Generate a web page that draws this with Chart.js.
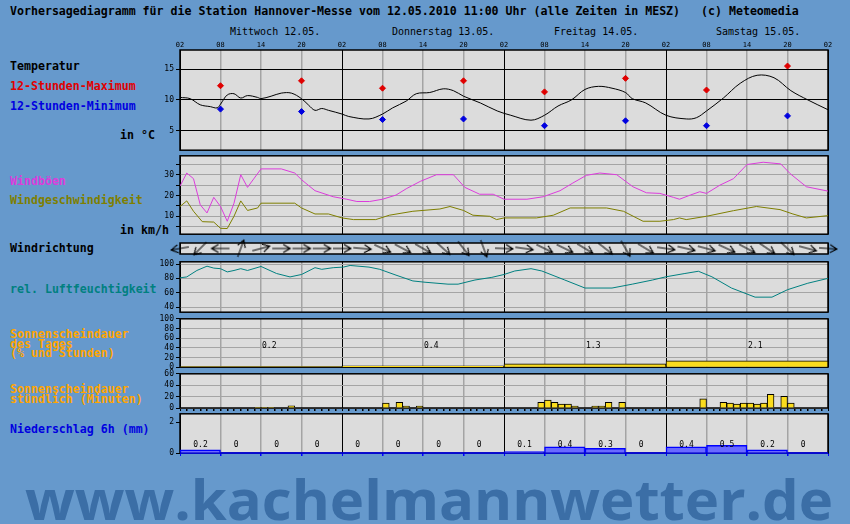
<!DOCTYPE html>
<html>
<head>
<meta charset="utf-8">
<title>Vorhersagediagramm Hannover-Messe</title>
<script src="https://cdn.jsdelivr.net/npm/chart.js@4/dist/chart.umd.min.js"></script>
<style>
  html, body { margin: 0; padding: 0; background: #6699cc; }
  body { position: relative; width: 850px; height: 524px; overflow: hidden; font-family: "DejaVu Sans Mono", monospace; }
  canvas { position: absolute; left: 140px; }
  .lbl { position: absolute; left: 10px; font-weight: bold; font-size: 11.6px; line-height: 11.6px; white-space: pre; color: #000; }
  .day { position: absolute; top: 27px; font-size: 10px; line-height: 10px; white-space: pre; color: #000; }
  #wm { position: absolute; left: 25px; top: 470px; font: bold 56px "Open Sans", sans-serif; line-height: 56px;
        color: #3b6ea6; white-space: nowrap; transform-origin: 0 0; }
</style>
</head>
<body>

<div class="lbl" style="top:6px">Vorhersagediagramm für die Station Hannover-Messe vom 12.05.2010 11:00 Uhr (alle Zeiten in MESZ)   (c) Meteomedia</div>

<div class="lbl" style="top:61px">Temperatur</div>
<div class="lbl" style="top:81px;color:#e00000">12-Stunden-Maximum</div>
<div class="lbl" style="top:101px;color:#0000e0">12-Stunden-Minimum</div>
<div class="lbl" style="top:130px;left:120px">in °C</div>

<div class="lbl" style="top:176px;color:#dc3cdc">Windböen</div>
<div class="lbl" style="top:195px;color:#7f7f00">Windgeschwindigkeit</div>
<div class="lbl" style="top:225px;left:120px">in km/h</div>
<div class="lbl" style="top:243px">Windrichtung</div>

<div class="lbl" style="top:283.5px;color:#008080">rel. Luftfeuchtigkeit</div>

<div class="lbl" style="top:328.5px;color:#ffa500">Sonnenscheindauer</div>
<div class="lbl" style="top:338.5px;color:#ffa500">des Tages</div>
<div class="lbl" style="top:347.5px;color:#ffa500">(% und Stunden)</div>

<div class="lbl" style="top:383.5px;color:#ffa500">Sonnenscheindauer</div>
<div class="lbl" style="top:393.5px;color:#ffa500">stündlich (Minuten)</div>

<div class="lbl" style="top:423.5px;color:#0000e0">Niederschlag 6h (mm)</div>

<div id="dayLabels"></div>

<canvas id="cTemp" width="710" height="121" style="top:36px"></canvas>
<canvas id="cWind" width="710" height="92" style="top:149px"></canvas>
<canvas id="cDir" width="710" height="33" style="top:232px"></canvas>
<canvas id="cHum" width="710" height="64" style="top:255px"></canvas>
<canvas id="cSunDay" width="710" height="62" style="top:312px"></canvas>
<canvas id="cSunHour" width="710" height="50" style="top:367px"></canvas>
<canvas id="cPrec" width="710" height="56" style="top:407px"></canvas>

<div id="wm">www.kachelmannwetter.de</div>

<script>
// hours are counted from Wednesday 12.05. 02:00 MESZ (0 .. 96)
const days = ['Mittwoch 12.05.', 'Donnerstag 13.05.', 'Freitag 14.05.', 'Samstag 15.05.'];

// temperature in °C
const tempHours  = [0, 1.5, 3, 4.5, 5.5, 6, 7, 8, 9, 10, 11.5, 12, 13.5, 15, 16.5, 18, 19, 20, 21, 22, 24, 25, 28, 30, 31.5, 33.5, 35, 37, 39, 40.5, 42, 44.5, 47, 49, 52, 54, 56, 58, 60, 62, 64, 66, 67, 69, 72, 75, 76.5, 78, 80.5, 83, 85.5, 88, 90.5, 93, 96];
const tempValues = [10.4, 10.2, 9.2, 8.9, 8.7, 9.3, 10.8, 11.0, 10.3, 10.7, 10.4, 10.2, 10.6, 11.1, 11.1, 10.2, 9.2, 8.3, 8.6, 8.3, 7.7, 7.3, 6.9, 7.7, 8.7, 9.8, 11.0, 11.2, 11.8, 11.5, 10.6, 9.5, 8.2, 7.5, 6.7, 7.5, 9.0, 10.0, 11.7, 12.2, 11.9, 11.2, 10.2, 9.5, 7.5, 6.9, 7.1, 8.2, 10.3, 12.7, 14.0, 13.6, 11.5, 10.0, 8.4];

// 12-hour extremes (at 08 and 20 h)
const extremeHours = [6, 18, 30, 42, 54, 66, 78, 90];
const maxValues = [12.3, 13.1, 11.9, 13.1, 11.3, 13.5, 11.6, 15.5];
const minValues = [8.5, 8.1, 6.8, 6.9, 5.8, 6.6, 5.8, 7.4];

// wind in km/h
const gustHours  = [0, 1, 2, 3, 4, 5, 6, 7, 8, 9, 10, 12, 15, 17, 18, 20, 22.7, 24.7, 26.2, 28.1, 30, 32, 33.6, 35.6, 38, 40.5, 42.2, 44.4, 46.4, 48, 51.4, 53.8, 56.3, 58.2, 60.2, 62.2, 64.7, 67.1, 69.1, 71.1, 73.1, 74, 75.6, 77, 78, 80, 82, 84, 86.4, 89, 90.4, 92.8, 96];
const gustValues = [24.5, 30.8, 28.1, 15.5, 11.6, 19.1, 14.7, 7.6, 16.3, 30.0, 23.9, 32.8, 32.8, 30.8, 27.6, 22.3, 19.4, 18.2, 17.1, 17.1, 18.2, 20.2, 23.4, 26.8, 30.0, 30.0, 23.9, 20.6, 20.6, 18.2, 18.2, 19.4, 22.3, 26.0, 29.7, 30.8, 30.0, 24.2, 21.3, 21.0, 19.1, 18.2, 20.2, 21.8, 21.0, 25.0, 28.1, 34.9, 36.0, 35.2, 30.5, 24.2, 22.1];
const speedHours  = [0, 1, 2, 3.3, 5, 6, 7, 8, 9, 10, 11.5, 12, 17, 18, 20, 22, 24, 25.7, 29, 31, 34.5, 38.5, 40, 42, 43.4, 45.9, 46.9, 48, 52.8, 55.3, 57.8, 63.2, 65.7, 68.6, 71.1, 73.1, 74, 75, 78, 82, 85.4, 88.9, 90.8, 92.8, 96];
const speedValues = [14.7, 17.4, 12.4, 7.4, 7.2, 4.2, 4.1, 10.0, 17.4, 12.8, 14.0, 16.3, 16.3, 14.0, 11.1, 11.1, 9.2, 8.4, 8.4, 10.5, 12.4, 13.5, 14.7, 12.8, 10.5, 10.0, 8.4, 9.2, 9.2, 10.5, 14.0, 14.0, 12.4, 7.6, 7.6, 8.4, 9.2, 8.4, 10.0, 12.7, 14.7, 13.2, 11.1, 9.2, 10.3];

// wind direction (degrees the wind comes from), every 3 hours from hour 0
const windDir = [80, 45, 90, 200, 255, 270, 270, 270, 270, 275, 295, 298, 300, 312, 322, 340, 272, 278, 296, 296, 301, 308, 330, 301, 278, 283, 285, 295, 298, 304, 313, 285, 274];

// relative humidity in %
const humHours  = [0, 1, 2.5, 4, 5, 6, 7, 8, 9, 10, 12, 14.3, 16.3, 18, 20, 21, 22.7, 24.2, 25.2, 28, 29.6, 32, 34.5, 36.3, 39.7, 41.2, 43.7, 46.2, 48, 49.6, 52, 53.6, 57, 60, 64, 67, 70, 72, 74.8, 76.8, 78.8, 81.7, 85.2, 87.7, 90, 93, 96];
const humValues = [80.8, 82, 91, 97, 94.3, 93.5, 89, 91, 93.5, 91, 96.6, 86.8, 82, 85.4, 94.9, 92.6, 94.9, 95.7, 98, 95.7, 92.6, 84.5, 76.4, 74.6, 71.9, 71.9, 77.7, 81.4, 85.4, 90.3, 93.5, 90.3, 77.7, 66.5, 66.5, 71.9, 77.7, 82.2, 86.8, 89.9, 82.2, 66.5, 53.8, 53.8, 64.2, 73.2, 80];

// daily sunshine: percent of possible, and hours
const sunDayPct   = [1.3, 2.6, 7, 13];
const sunDayHours = [0.2, 0.4, 1.3, 2.1];

// hourly sunshine in minutes (hour index -> minutes)
const sunHours   = [11, 12, 13, 16, 30, 32, 33, 35, 53, 54, 55, 56, 57, 58, 61, 62, 63, 65, 77, 80, 81, 82, 83, 84, 85, 86, 87, 89, 90];
const sunMinutes = [0.5, 0.5, 0.5, 4, 8.5, 10, 3.5, 3.5, 10, 14, 10, 7, 7, 3.5, 3.5, 3.5, 10, 10, 16, 10, 8.5, 7, 8.5, 8.5, 7, 8.5, 24, 20.5, 8.5];

// 6-hourly precipitation in mm
const precValues = [0.2, 0, 0, 0, 0, 0, 0, 0, 0.1, 0.4, 0.3, 0, 0.4, 0.5, 0.2, 0];

// ---------------------------------------------------------------
const mono = '"DejaVu Sans Mono", monospace';
const range = (a, b, s) => Array.from({ length: Math.floor((b - a) / s) + 1 }, (_, i) => a + i * s);
const pts = (xs, ys) => xs.map((x, i) => ({ x: x, y: ys[i] }));
const hourTick = v => String((v + 2) % 24).padStart(2, '0');

// grey panel background + black frame
const panelFrame = {
  id: 'panelFrame',
  beforeDraw(chart) {
    const a = chart.chartArea, ctx = chart.ctx;
    ctx.save();
    ctx.fillStyle = '#dcdcdc';
    ctx.fillRect(a.left, a.top, a.right - a.left, a.bottom - a.top);
    ctx.restore();
  },
  beforeDatasetsDraw(chart, args, opts) {
    const a = chart.chartArea, ctx = chart.ctx;
    ctx.save();
    ctx.strokeStyle = '#000';
    ctx.lineWidth = 1.5;
    ctx.strokeRect(a.left, a.top, a.right - a.left, a.bottom - a.top);
    if (opts.bottom) {
      ctx.strokeStyle = opts.bottom;
      ctx.beginPath();
      ctx.moveTo(a.left, a.bottom);
      ctx.lineTo(a.right, a.bottom);
      ctx.stroke();
    }
    ctx.restore();
  }
};

// small value texts inside a panel
const textLabels = {
  id: 'textLabels',
  afterDatasetsDraw(chart, args, opts) {
    if (!opts.texts) return;
    const ctx = chart.ctx, xs = chart.scales.x, ys = chart.scales.y;
    ctx.save();
    ctx.font = '8px ' + mono;
    ctx.fillStyle = '#000';
    ctx.textAlign = 'left';
    ctx.textBaseline = 'middle';
    opts.texts.forEach((t, i) => {
      ctx.fillText(t, xs.getPixelForValue(opts.hours[i]) + opts.dx, ys.getPixelForValue(opts.yValue));
    });
    ctx.restore();
  }
};
Chart.register(panelFrame, textLabels);

function xAxis(o) {
  o = o || {};
  return {
    type: 'linear', position: o.position || 'bottom', min: 0, max: 96, offset: false,
    afterBuildTicks: s => { s.ticks = range(0, 96, o.step || 6).map(v => ({ value: v })); },
    afterFit: s => { s.height = o.height || 0; },
    border: { display: false },
    ticks: { display: !!o.labels, font: { family: mono, size: 7 }, color: '#000', padding: 1,
             maxRotation: 0, autoSkip: false, callback: hourTick },
    grid: {
      offset: false,
      drawOnChartArea: o.onArea !== false,
      drawTicks: !!o.tickColor, tickLength: 3, tickColor: o.tickColor || '#000',
      color: c => (c.tick && c.tick.value % 24 === 0) ? '#000' : '#a4a4a4',
      lineWidth: c => (c.tick && c.tick.value % 24 === 0) ? 1 : 1.5
    }
  };
}

function yAxis(min, max, ticks, o) {
  o = o || {};
  return {
    min: min, max: max,
    afterBuildTicks: s => { s.ticks = ticks.map(v => ({ value: v })); },
    afterFit: s => { s.width = 40; },
    border: { display: false },
    ticks: { display: o.labels !== false, font: { family: mono, size: 8 }, color: '#000', padding: 2,
             autoSkip: false, callback: o.format || (v => String(v)) },
    grid: {
      display: o.grid !== false,
      drawOnChartArea: o.onArea !== false,
      color: o.gridColor || '#a4a4a4', lineWidth: o.gridWidth || 1,
      tickLength: 4, tickColor: '#000'
    }
  };
}

function options(scales, plugins, pad) {
  return {
    responsive: false, animation: false, events: [],
    layout: { padding: Object.assign({ left: 0, right: 22, top: 6, bottom: 6 }, pad || {}) },
    plugins: Object.assign({ legend: { display: false }, tooltip: { enabled: false } }, plugins || {}),
    scales: scales
  };
}

// ---- temperature ----
const tempChart = new Chart('cTemp', {
  type: 'line',
  data: { datasets: [
    { data: pts(tempHours, tempValues), borderColor: '#000', borderWidth: 1, pointRadius: 0, tension: 0.35 },
    { data: pts(extremeHours, maxValues), showLine: false, pointStyle: 'rectRot', pointRadius: 3,
      pointBackgroundColor: '#e00000', pointBorderColor: '#e00000' },
    { data: pts(extremeHours, minValues), showLine: false, pointStyle: 'rectRot', pointRadius: 3,
      pointBackgroundColor: '#0000e0', pointBorderColor: '#0000e0' }
  ] },
  options: options({
    x: xAxis({ position: 'top', labels: true, height: 14 }),
    y: yAxis(1.82, 18.11, [5, 10, 15], { gridColor: '#000', gridWidth: 1 })
  }, {}, { top: 0 })
});

// ---- wind ----
new Chart('cWind', {
  type: 'line',
  data: { datasets: [
    { data: pts(gustHours, gustValues), borderColor: '#dc3cdc', borderWidth: 1, pointRadius: 0, tension: 0 },
    { data: pts(speedHours, speedValues), borderColor: '#7f7f00', borderWidth: 1, pointRadius: 0, tension: 0 }
  ] },
  options: options({
    x: xAxis(),
    y: yAxis(1.37, 39.1, [5, 10, 15, 20, 25, 30, 35], { format: v => (v % 10 === 0 ? String(v) : '') })
  })
});

// ---- wind direction arrows ----
function arrowImage() {
  const c = document.createElement('canvas');
  c.width = 24; c.height = 24;
  const g = c.getContext('2d');
  g.strokeStyle = '#000';
  g.lineWidth = 1.1;
  g.beginPath();
  g.moveTo(3, 12); g.lineTo(21, 12);
  g.moveTo(14, 8); g.lineTo(21, 12); g.lineTo(14, 16);
  g.stroke();
  return c;
}
const arrow = arrowImage();
new Chart('cDir', {
  type: 'line',
  data: { datasets: [{
    data: windDir.map((d, i) => ({ x: i * 3, y: 0.5 })),
    showLine: false, clip: false,
    pointStyle: arrow, pointRadius: 10,
    pointRotation: c => windDir[c.dataIndex] + 90
  }] },
  options: options({
    x: xAxis(),
    y: yAxis(0, 1, [], { labels: false, grid: false })
  })
});

// ---- humidity ----
new Chart('cHum', {
  type: 'line',
  data: { datasets: [
    { data: pts(humHours, humValues), borderColor: '#008080', borderWidth: 1, pointRadius: 0, tension: 0 }
  ] },
  options: options({
    x: xAxis(),
    y: yAxis(32.8, 103.1, [40, 60, 80, 100])
  })
});

// ---- daily sunshine ----
new Chart('cSunDay', {
  type: 'bar',
  data: { datasets: [{
    xAxisID: 'xd',
    data: sunDayPct.map((v, i) => ({ x: i * 24 + 12, y: v })),
    backgroundColor: '#fadc1e', borderColor: '#000', borderWidth: 1,
    barPercentage: 1, categoryPercentage: 1
  }] },
  options: options({
    x: xAxis(),
    xd: Object.assign(xAxis({ step: 24 }), { display: false }),
    y: yAxis(0, 100, [0, 20, 40, 60, 80, 100])
  }, {
    textLabels: { texts: sunDayHours.map(v => v.toFixed(1)), hours: sunDayHours.map((v, i) => i * 24 + 12), dx: 1, yValue: 43 }
  })
});

// ---- hourly sunshine ----
new Chart('cSunHour', {
  type: 'bar',
  data: { datasets: [{
    data: sunHours.map((h, i) => ({ x: h + 0.5, y: sunMinutes[i] })),
    backgroundColor: '#fadc1e', borderColor: '#000', borderWidth: 1,
    barPercentage: 1, categoryPercentage: 1
  }] },
  options: options({
    x: xAxis(),
    xh: xAxis({ step: 1, onArea: false, tickColor: '#000', height: 3 }),
    y: yAxis(0, 60, [0, 20, 40, 60])
  }, {}, { bottom: 6 })
});

// ---- precipitation ----
new Chart('cPrec', {
  type: 'bar',
  data: { datasets: [{
    data: precValues.map((v, i) => ({ x: i * 6 + 3, y: v > 0 ? v : null })),
    backgroundColor: '#6a6aff', borderColor: '#0000ff', borderWidth: 1.5,
    barPercentage: 1, categoryPercentage: 1
  }] },
  options: options({
    x: xAxis({ tickColor: '#0000ff', height: 4 }),
    y: yAxis(0, 2.56, [0, 2], { onArea: false })
  }, {
    panelFrame: { bottom: '#0000ff' },
    textLabels: { texts: precValues.map(v => (v === 0 ? '0' : v.toFixed(1))), hours: precValues.map((v, i) => i * 6 + 3), dx: -7, yValue: 0.5 }
  })
});

// ---- day names above the temperature panel ----
const xs = tempChart.scales.x;
const holder = document.getElementById('dayLabels');
days.forEach((d, i) => {
  const el = document.createElement('div');
  el.className = 'day';
  el.textContent = d;
  el.style.left = (140 + xs.getPixelForValue(i * 24) + 50) + 'px';
  holder.appendChild(el);
});

// stretch the watermark to its width in the original
const wm = document.getElementById('wm');
wm.style.transform = 'scaleX(' + (808 / wm.offsetWidth) + ')';
</script>
</body>
</html>
